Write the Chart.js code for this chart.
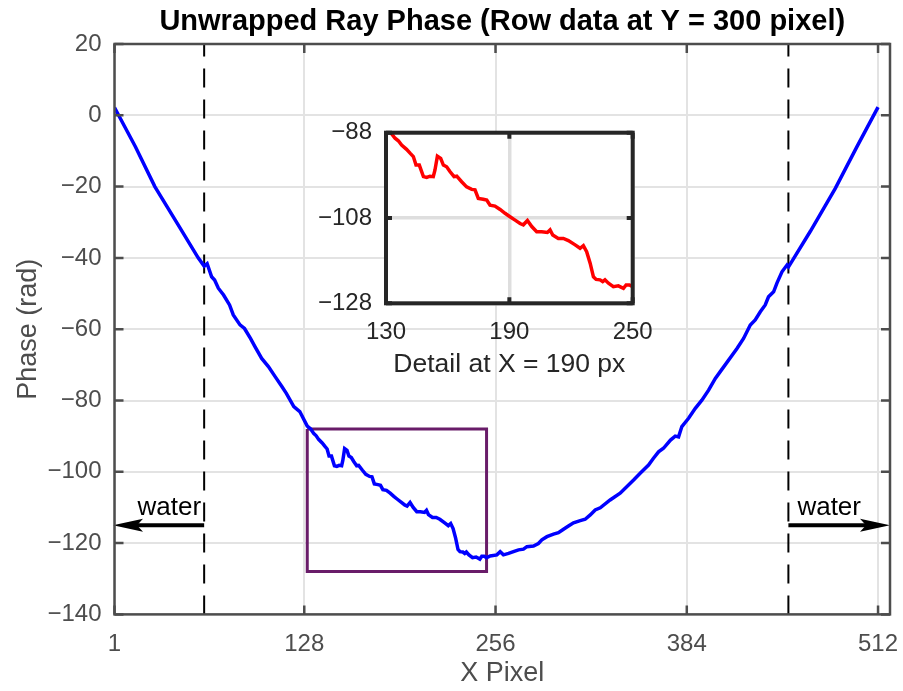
<!DOCTYPE html>
<html>
<head>
<meta charset="utf-8">
<title>Unwrapped Ray Phase</title>
<script src="https://cdn.jsdelivr.net/npm/chart.js@4.4.0/dist/chart.umd.min.js"></script>
<style>
  html, body { margin: 0; padding: 0; background: #fff; }
  #wrap { position: relative; width: 903px; height: 691px; overflow: hidden; }
  #main { position: absolute; left: 0; top: 0; width: 903px; height: 691px; }
  #inset { position: absolute; left: 300px; top: 110px; width: 380px; height: 280px; }
</style>
</head>
<body>
<div id="wrap">
  <canvas id="main" width="903" height="691"></canvas>
  <canvas id="inset" width="380" height="280"></canvas>
</div>
<script>
// row profile (x pixel, phase in rad)
const pixelX = [1, 15, 28, 43, 57, 61, 63, 66, 68, 70.5, 74, 78, 80.5, 85, 88, 92, 95, 99.5, 104, 108.5,
  113, 116, 121, 125, 130,
  132.3, 134.4, 136, 137.6, 140, 141.7, 143.3, 144.6, 146.2, 148.2,
  149.8, 151.4, 153, 153.8, 155, 156.6, 157.9, 159.5, 161.1, 163.1,
  164.4, 166.8, 169.2, 171.7, 173.3, 174.9, 177.3, 179, 180.6, 183,
  185.5, 187.9, 190.3, 192.8, 195.2, 196.8, 198.8, 200.9, 203.3, 205.7,
  208.5, 209.8, 211.1, 213.8, 216.3, 218.7, 222, 224.4, 226, 227.6,
  229.3, 230.9, 232.2, 234.1, 235.4, 236.5, 238.2, 240.6, 243, 245.5,
  246.8, 248.4, 250,
  252.4, 256.9, 259.1, 261.3, 264.7, 268, 271.4, 274.7, 277, 281.4,
  284.7, 287, 290.4, 294.8, 298.1, 301.5, 304.8, 308.2, 312.7, 316,
  319.4, 322.7, 326.1, 332.7, 339.4, 345, 348.4, 352.8, 358.4, 361.7,
  365.1, 368.4, 373.1, 376.3, 378.5, 380.7, 385.2, 389.7, 394.1, 398.6,
  403.1, 406.4, 417.6, 422, 426.5, 429.8, 433.2, 436.5, 438.7, 442.1,
  444.4, 447.7, 451.1, 452.1, 466.6, 483.4, 497.9, 512];
const phase = [2.2, -8.8, -20, -30.3, -40, -42.3, -41.6, -45.3, -46.2, -48.5, -50.4, -53.2, -56, -58.8, -59.8, -62.6, -64.9, -68.2, -70.5, -73.3,
  -76.1, -78, -81.7, -83.1, -87.2,
  -88.0, -89.3, -89.9, -90.9, -91.9, -92.8, -93.6, -95.6, -95.6, -98.3,
  -98.5, -98.2, -98.3, -96.8, -93.5, -94, -95.6, -96, -97.1, -98.3,
  -98.2, -99.5, -100.7, -101.3, -101.4, -103.4, -103.6, -103.8, -105, -105.2,
  -106, -106.9, -107.7, -108.5, -109.3, -109.6, -108.6, -110, -111.2, -111.2,
  -111.4, -110.8, -112, -112.8, -112.8, -113.3, -114.3, -115.1, -114.5, -115.9,
  -118.6, -121.8, -122.4, -122.5, -122.9, -122.5, -123.3, -124.1, -123.9, -124.5,
  -123.7, -123.7, -124.1,
  -123.6, -123.3, -122.4, -123.3, -122.9, -122.4, -121.9, -121.7, -121, -120.8,
  -120.1, -119.1, -118.2, -117.5, -117.1, -116.1, -115.2, -114.3, -113.7, -113.3,
  -112.1, -110.7, -110.1, -107.9, -106, -103.7, -102.3, -100.4, -98.1, -96.2,
  -94.4, -93.4, -91.1, -90, -90.2, -87.3, -85, -82.2, -79.9, -77.1,
  -73.8, -71.9, -65.4, -62.6, -58.8, -57.4, -55.1, -53.2, -50.9, -49.5,
  -47, -43.9, -42, -42.5, -32.6, -20.5, -8.8, 2.3];

const xTicks = [1, 128, 256, 384, 512];
const waterEdges = [61, 452];          // dashed boundaries
const waterArrowTo = [0, 520];         // arrow tips
const waterArrowY = -115;
const dashY = [-140, 20];
const zoomBoxX = [130, 250, 250, 130, 130];
const zoomBoxY = [-88, -88, -128, -128, -88];
const insetXTicks = [130, 190, 250];
const insetYTicks = [-128, -108, -88];

const FONT = "'Liberation Sans', Arial, Helvetica, sans-serif";
const AXIS = '#4d4d4d';
const GRID = '#e3e3e3';

const curve = pixelX.map((x, i) => ({ x, y: phase[i] }));
const minus = v => String(v).replace('-', '\u2212');

// keep chart.js from shrinking the plot for edge labels
const noPad = s => { s.paddingLeft = 0; s.paddingRight = 0; s.paddingTop = 0; s.paddingBottom = 0; };

// box round the axes with inward tick marks, like the original figure
const boxPlugin = {
  id: 'box',
  afterDraw(chart, args, o) {
    const { ctx, chartArea: a, scales } = chart;
    ctx.save();
    ctx.strokeStyle = o.color;
    ctx.lineWidth = o.width;
    ctx.beginPath();
    scales.x.ticks.forEach(t => {
      const p = scales.x.getPixelForValue(t.value);
      ctx.moveTo(p, a.bottom); ctx.lineTo(p, a.bottom - o.tick);
      ctx.moveTo(p, a.top); ctx.lineTo(p, a.top + o.tick);
    });
    scales.y.ticks.forEach(t => {
      const p = scales.y.getPixelForValue(t.value);
      ctx.moveTo(a.left, p); ctx.lineTo(a.left + o.tick, p);
      ctx.moveTo(a.right, p); ctx.lineTo(a.right - o.tick, p);
    });
    ctx.stroke();
    ctx.strokeRect(a.left, a.top, a.right - a.left, a.bottom - a.top);
    ctx.restore();
  }
};

const whiteArea = {
  id: 'whiteArea',
  beforeDraw(chart) {
    const { ctx, chartArea: a } = chart;
    ctx.save();
    ctx.fillStyle = '#fff';
    ctx.fillRect(a.left, a.top, a.right - a.left, a.bottom - a.top);
    ctx.restore();
  }
};

const arrows = {
  id: 'arrows',
  afterDatasetsDraw(chart) {
    const { ctx, scales } = chart;
    const y = scales.y.getPixelForValue(waterArrowY);
    ctx.save();
    ctx.fillStyle = '#000';
    ctx.strokeStyle = '#000';
    ctx.lineWidth = 4;
    waterEdges.forEach((e, i) => {
      const x0 = scales.x.getPixelForValue(e);
      const x1 = scales.x.getPixelForValue(waterArrowTo[i]);
      const dir = Math.sign(x1 - x0);
      const headLen = 30, headW = 6.5;
      ctx.beginPath();
      ctx.moveTo(x0, y);
      ctx.lineTo(x1 - dir * headLen * 0.7, y);
      ctx.stroke();
      ctx.beginPath();
      ctx.moveTo(x1, y);
      ctx.lineTo(x1 - dir * headLen, y - headW);
      ctx.lineTo(x1 - dir * headLen * 0.8, y);
      ctx.lineTo(x1 - dir * headLen, y + headW);
      ctx.closePath();
      ctx.fill();

      ctx.font = '26px ' + FONT;
      ctx.textBaseline = 'alphabetic';
      if (dir < 0) {
        ctx.textAlign = 'right';
        ctx.fillText('water', x0 - 3, y - 10);
      } else {
        ctx.textAlign = 'left';
        ctx.fillText('water', x0 + 9, y - 10);
      }
    });
    ctx.restore();
  }
};

new Chart(document.getElementById('main'), {
  type: 'scatter',
  data: {
    datasets: [
      { data: curve, showLine: true, borderColor: '#0000ff', borderWidth: 3.5, pointRadius: 0 },
      { data: zoomBoxX.map((x, i) => ({ x, y: zoomBoxY[i] })), showLine: true,
        borderColor: '#691c69', borderWidth: 3, pointRadius: 0 },
      { data: dashY.map(y => ({ x: waterEdges[0], y })), showLine: true,
        borderColor: '#000', borderWidth: 2, borderDash: [19, 12], pointRadius: 0 },
      { data: dashY.map(y => ({ x: waterEdges[1], y })), showLine: true,
        borderColor: '#000', borderWidth: 2, borderDash: [19, 12], pointRadius: 0 }
    ]
  },
  options: {
    responsive: false,
    animation: false,
    events: [],
    layout: { padding: { left: 0, right: 13, top: 0, bottom: 0 } },
    plugins: {
      legend: { display: false },
      tooltip: { enabled: false },
      title: {
        display: true,
        fullSize: false,
        text: 'Unwrapped Ray Phase (Row data at Y = 300 pixel)',
        color: '#000',
        font: { family: FONT, size: 29, weight: 'bold' },
        padding: { top: 5, bottom: 4.2 }
      },
      box: { color: AXIS, width: 2.5, tick: 9 }
    },
    scales: {
      x: {
        type: 'linear', min: 1, max: 520,
        afterBuildTicks: s => { s.ticks = xTicks.map(v => ({ value: v })); },
        afterFit: s => { s.height = 76.6; noPad(s); },
        grid: { color: GRID, lineWidth: 2, drawTicks: false },
        border: { display: false },
        ticks: { color: AXIS, font: { family: FONT, size: 24 }, padding: 16, maxRotation: 0, autoSkip: false, callback: minus },
        title: { display: true, text: 'X Pixel', color: AXIS, font: { family: FONT, size: 27 }, padding: { top: 0, bottom: 1 } }
      },
      y: {
        type: 'linear', min: -140, max: 20,
        afterFit: s => { s.width = 114.5; noPad(s); },
        grid: { color: GRID, lineWidth: 2, drawTicks: false },
        border: { display: false },
        ticks: { stepSize: 20, color: AXIS, font: { family: FONT, size: 24 }, padding: 13, callback: minus },
        title: { display: true, text: 'Phase (rad)', color: AXIS, font: { family: FONT, size: 27 }, padding: { top: 12, bottom: 0 } }
      }
    }
  },
  plugins: [boxPlugin, arrows]
});

// zoomed inset
new Chart(document.getElementById('inset'), {
  type: 'scatter',
  data: {
    datasets: [
      { data: curve, showLine: true, borderColor: '#ff0000', borderWidth: 3.5, pointRadius: 0 }
    ]
  },
  options: {
    responsive: false,
    animation: false,
    events: [],
    layout: { padding: { left: 0, right: 47.3, top: 22.7, bottom: 0 } },
    plugins: {
      legend: { display: false },
      tooltip: { enabled: false },
      box: { color: '#262626', width: 4, tick: 6 }
    },
    scales: {
      x: {
        type: 'linear', min: 130, max: 250,
        afterBuildTicks: s => { s.ticks = insetXTicks.map(v => ({ value: v })); },
        afterFit: s => { s.height = 86.7; noPad(s); },
        grid: { color: '#dedede', lineWidth: 3.5, drawTicks: false },
        border: { display: false },
        ticks: { color: '#262626', font: { family: FONT, size: 24 }, padding: 15, maxRotation: 0, autoSkip: false },
        title: { display: true, text: 'Detail at X = 190 px', color: '#262626', font: { family: FONT, size: 26.5 }, padding: { top: 0, bottom: 9 } }
      },
      y: {
        type: 'linear', min: -128, max: -88,
        afterBuildTicks: s => { s.ticks = insetYTicks.map(v => ({ value: v })); },
        afterFit: s => { s.width = 86; noPad(s); },
        grid: { color: '#dedede', lineWidth: 3.5, drawTicks: false },
        border: { display: false },
        ticks: { color: '#262626', font: { family: FONT, size: 24 }, padding: 14, callback: minus }
      }
    }
  },
  plugins: [whiteArea, boxPlugin]
});
</script>
</body>
</html>
